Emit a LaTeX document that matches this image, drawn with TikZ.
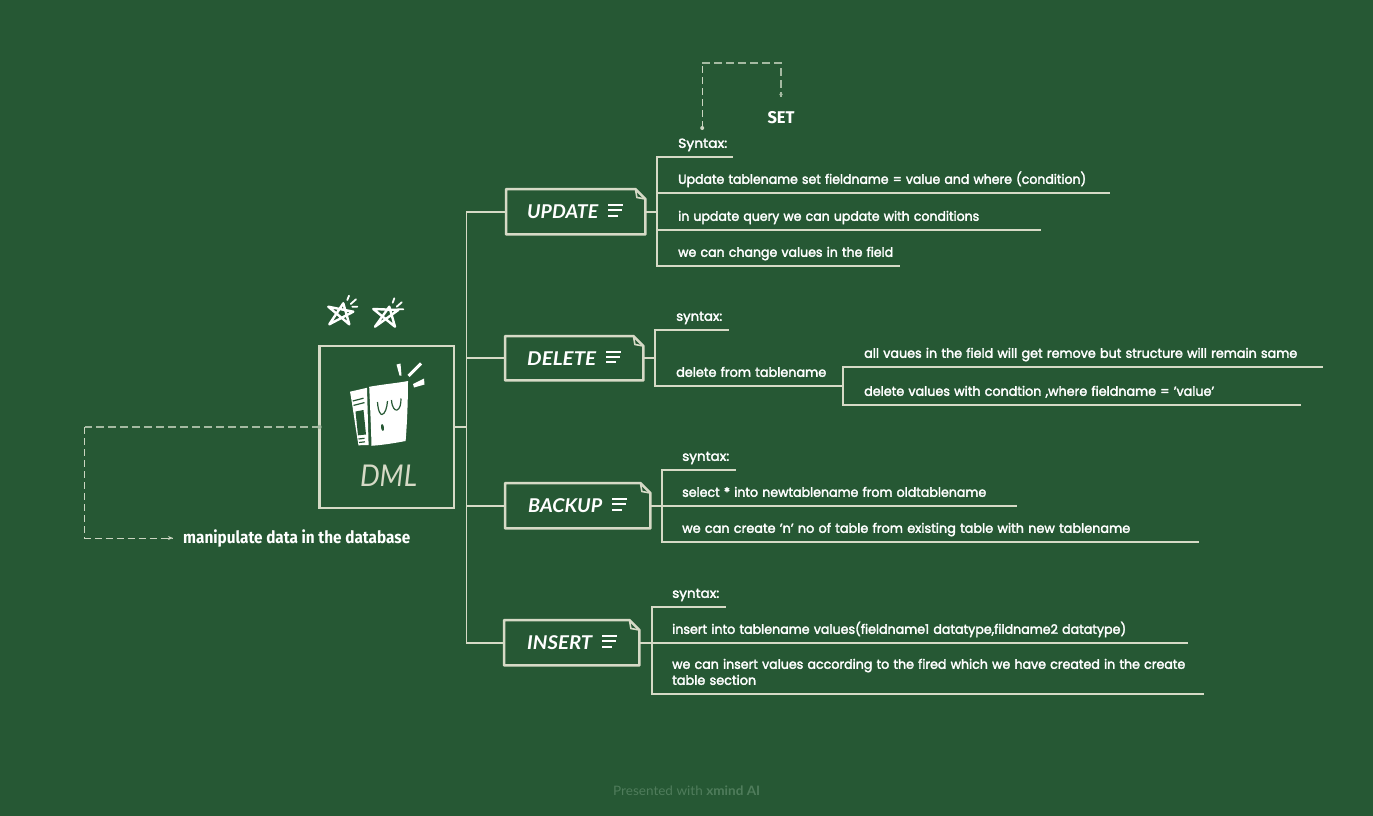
\documentclass[tikz,border=0pt]{standalone}
\usepackage{fontspec}
\usepackage{graphicx}
\usetikzlibrary{calc,arrows.meta}
\setmainfont{Poppins}[RawFeature={embolden=2.5}]
\newfontfamily\headfont{Lato}
\newfontfamily\figfont{Fira Sans}
\definecolor{bg}{HTML}{265834}
\definecolor{chalk}{HTML}{D6DAC6}
\definecolor{dimdash}{HTML}{A5BAA2}
\definecolor{thindash}{HTML}{CBD5C1}
\definecolor{footer}{HTML}{4F7C5B}
\newcommand{\fw}[2]{\resizebox{#1pt}{\height}{#2}}
\tikzset{
  conn/.style={draw=chalk,line width=1.9pt},
  ul/.style={draw=chalk,line width=2.6pt},
  leaf/.style={anchor=south west,inner xsep=7pt,inner ysep=6pt,text depth=3pt,align=left,text=white,font=\fontsize{13}{16}\selectfont},
  topic/.style={anchor=north west,inner sep=0pt,text=white,font=\headfont\bfseries\itshape\fontsize{19}{22}\selectfont},
  topicline/.style={draw=chalk,line width=2.5pt,line join=round},
  notes/.style={draw=white,line width=2.1pt},
  dashdim/.style={draw=dimdash,line width=1.5pt,dash pattern=on 8pt off 4pt},
  dashthin/.style={draw=thindash,line width=1pt,dash pattern=on 7pt off 4pt},
  hand/.style={draw=white,line width=2.4pt,line join=round,line cap=round},
}
% #1 name, #2 x, #3 y, #4 w, #5 h, #6 text, #7 text width, #8 text offset
\newcommand{\topicbox}[8]{%
  \node[topic,minimum width=#4pt,minimum height=#5pt] (#1) at (#2,#3) {};
  \node[text=white,inner sep=0pt,anchor=base west,font=\headfont\bfseries\itshape\fontsize{19}{22}\selectfont] (#1t) at ($(#1.west)+(#8,7)$) {\fw{#7}{#6}};
  \draw[topicline] (#1.north west) -- ($(#1.north east)+(-10,0)$) -- ($(#1.north east)+(0,10)$) -- (#1.south east) -- (#1.south west) -- cycle;
  \draw[draw=chalk,line width=1.6pt,line join=round] ($(#1.north east)+(-10,0)$) -- ($(#1.north east)+(-8.5,8.5)$) -- ($(#1.north east)+(0,10)$);
  \draw[notes] ($(#1t.east)+(10,-6.5)$) -- ++(15,0);
  \draw[notes] ($(#1t.east)+(10,-1.5)$) -- ++(13.5,0);
  \draw[notes] ($(#1t.east)+(10,4)$) -- ++(10,0);
}
% #1 name, #2 x, #3 y line, #4 x end, #5 text, #6 text depth
\newcommand{\leafnodex}[6]{%
  \node[leaf,text depth=#6,text width={(#4-#2-14)*1pt}] (#1) at (#2,#3) {#5};
  \draw[ul] (#1.south west) -- (#1.south east);
}
\newcommand{\leafnode}[5]{\leafnodex{#1}{#2}{#3}{#4}{#5}{3pt}}
\begin{document}
\begin{tikzpicture}[x=1pt,y=-1pt]
\fill[bg] (0,0) rectangle (1373,816);
\useasboundingbox (0,0) rectangle (1373,816);

% root
\node[draw=chalk,line width=2.3pt,outer sep=0pt,minimum width=134.5pt,minimum height=162pt,inner sep=0pt,anchor=north west] (root) at (319.5,346) {};
\node[text=chalk,inner sep=0pt,font=\headfont\itshape\fontsize{30}{32}\selectfont] (dml) at (388.5,476) {\fw{57}{DML}};

% book icon
\fill[white] (350,391.7) -- (367,387.8) -- (368.6,445) -- (358.5,445.3) .. controls (355,425) and (353,408) .. cycle;
\fill[white] (369.2,386.8) .. controls (385,384) and (398,383) .. (408,381) .. controls (408,400) and (407,425) .. (405.6,441) .. controls (395,443) and (383,445) .. (371.5,445.8) .. controls (371,425) and (370,405) .. cycle;
\draw[bg,line width=1.2pt] (352.8,401) -- (363.5,398.2);
\draw[bg,line width=1.2pt] (353.5,405.4) -- (364.5,402.6);
\fill[bg] (355.5,411.5) -- (363.5,410) -- (366,434.5) -- (358,435.3) -- cycle;
\draw[bg,line width=1.2pt] (358.5,439) -- (364.5,438.3);
\draw[bg,line width=1.2pt] (359,442.5) -- (365,441.8);
\draw[bg,line width=1.2pt] (377.5,402) .. controls (378,412) and (381,415) .. (382,414.5) .. controls (385,414) and (387,408) .. (387.5,401);
\draw[bg,line width=1.2pt] (391.5,400) .. controls (392,408) and (395,410.5) .. (397,410) .. controls (400,409) and (401,404) .. (401,398.5);
\fill[bg,rotate around={8:(382.5,427.5)}] (382.5,427.5) ellipse (1.5pt and 3.5pt);
\fill[white] (396.5,364.5) -- (400.5,363.5) -- (401.5,375.5) -- (399.5,375.5) -- cycle;
\draw[white,line width=3pt] (408.5,376) -- (421,363.5);
\fill[white] (413,384) -- (424,378.5) -- (424.5,384.5) -- (414,387.5) -- cycle;

% stars
\draw[hand] (328.3,306.7) -- (353.3,311.7) -- (329.3,324.3) -- (343.3,303.3) -- (349.3,324.3) -- cycle;
\draw[hand,line width=1.8pt] (349,295.7) -- (347.3,300) (350.7,304) -- (356,299.3) (352.3,306.7) -- (357.3,306.7);
\draw[hand] (373.3,309) -- (398.3,310) -- (375,326.7) -- (389.3,306.7) -- (395,326.7) -- cycle;
\draw[hand,line width=1.8pt] (394.3,298.3) -- (392.7,302.7) (396.7,306.7) -- (401.7,302.3) (397.7,309.3) -- (403.3,309.3);

% topics
\topicbox{update}{506}{189}{139}{45}{UPDATE}{71}{21}
\topicbox{delete}{505}{336}{138}{44}{DELETE}{69}{22}
\topicbox{backup}{505}{483}{145}{45}{BACKUP}{74}{23}
\topicbox{insert}{504}{620}{135}{45}{INSERT}{65}{23}

% leaves
\leafnode{uA}{671}{157}{733}{\fw{49}{Syntax:}}
\leafnode{uB}{671}{193}{1110}{\fw{408}{Update tablename set fieldname = value and where (condition)}}
\leafnode{uC}{671}{230}{1041}{\fw{301}{in update query we can update with conditions}}
\leafnode{uD}{671}{266}{900}{\fw{215}{we can change values in the field}}

\leafnode{dA}{669}{330}{729}{\fw{46}{syntax:}}
\leafnode{dB}{669}{386}{832}{\fw{150}{delete from tablename}}
\leafnode{dC}{857}{367}{1323}{\fw{433}{all vaues in the field will get remove but structure will remain same}}
\leafnode{dD}{857}{405}{1301}{\fw{350}{delete values with condtion ,where fieldname = 'value'}}

\leafnode{bA}{675}{470}{736}{\fw{47}{syntax:}}
\leafnode{bB}{675}{506}{1017}{\fw{304}{select * into newtablename from oldtablename}}
\leafnode{bC}{675}{542}{1199}{\fw{448}{we can create 'n' no of table from existing table with new tablename}}

\leafnode{iA}{665}{607}{726}{\fw{47}{syntax:}}
\leafnode{iB}{665}{643}{1188}{\fw{454}{insert into tablename values(fieldname1 datatype,fildname2 datatype)}}
\leafnodex{iC}{665}{694}{1204}{\fw{513}{we can insert values according to the fired which we have created in the create}\\\fw{84}{table section}}{19pt}

% free labels
\node[text=white,inner sep=0pt,minimum height=42pt,font=\figfont\bfseries\fontsize{17}{20}\selectfont] (setlabel) at (781,118) {\fw{27}{SET}};
\node[anchor=west,text=white,inner xsep=10pt,inner ysep=0pt,font=\figfont\bfseries\fontsize{17}{20}\selectfont] (manip) at (173,538) {\fw{227}{manipulate data in the database}};
\node[text=footer,inner sep=0pt,anchor=base west,font=\headfont\fontsize{13}{15}\selectfont] (foot) at (613,795) {\fw{147}{Presented with \textbf{xmind AI}}};

% trunk connectors
\draw[conn] (root.east) -- ++(12.5,0) |- (update.west);
\draw[conn] (root.east) -- ++(12.5,0) |- (delete.west);
\draw[conn] (root.east) -- ++(12.5,0) |- (backup.west);
\draw[conn] (root.east) -- ++(12.5,0) |- (insert.west);

% branch connectors
\foreach \lf in {uA,uB,uC,uD} \draw[conn] (update.east) -- ++(12,0) |- (\lf.south west);
\foreach \lf in {dA,dB} \draw[conn] (delete.east) -- ++(12,0) |- (\lf.south west);
\foreach \lf in {dC,dD} \draw[conn] (dB.south east) -- ++(11,0) |- (\lf.south west);
\foreach \lf in {bA,bB,bC} \draw[conn] (backup.east) -- ++(12,0) |- (\lf.south west);
\foreach \lf in {iA,iB,iC} \draw[conn] (insert.east) -- ++(13,0) |- (\lf.south west);

% relationship: Syntax -> SET
\coordinate (relA) at ($(uA.south)+(0,-29)$);
\coordinate (relAb) at ($(relA)+(0,-65)$);
\coordinate (relBb) at (setlabel.north |- relAb);
\fill[thindash] (relA) circle (2pt);
\draw[dashthin] (relA) -- (relAb);
\draw[dashdim] (relAb) -- (relBb) -- (setlabel.north);
\fill[dimdash] ($(setlabel.north)+(-2,-3)$) -- ($(setlabel.north)+(2,-3)$) -- (setlabel.north) -- cycle;

% relationship: root -> manipulate
\coordinate (relC) at ($(root.west)+(-235,0)$);
\coordinate (relD) at (relC |- manip.west);
\fill[dimdash] (root.west) circle (2.2pt);
\draw[dashdim] (root.west) -- (relC);
\draw[dashthin] (relC) -- (relD) -- (manip.west);
\draw[thindash,line width=1pt,-{Stealth[length=5pt,width=4pt]}] ($(manip.west)+(-6,0)$) -- (manip.west);
\end{tikzpicture}
\end{document}
